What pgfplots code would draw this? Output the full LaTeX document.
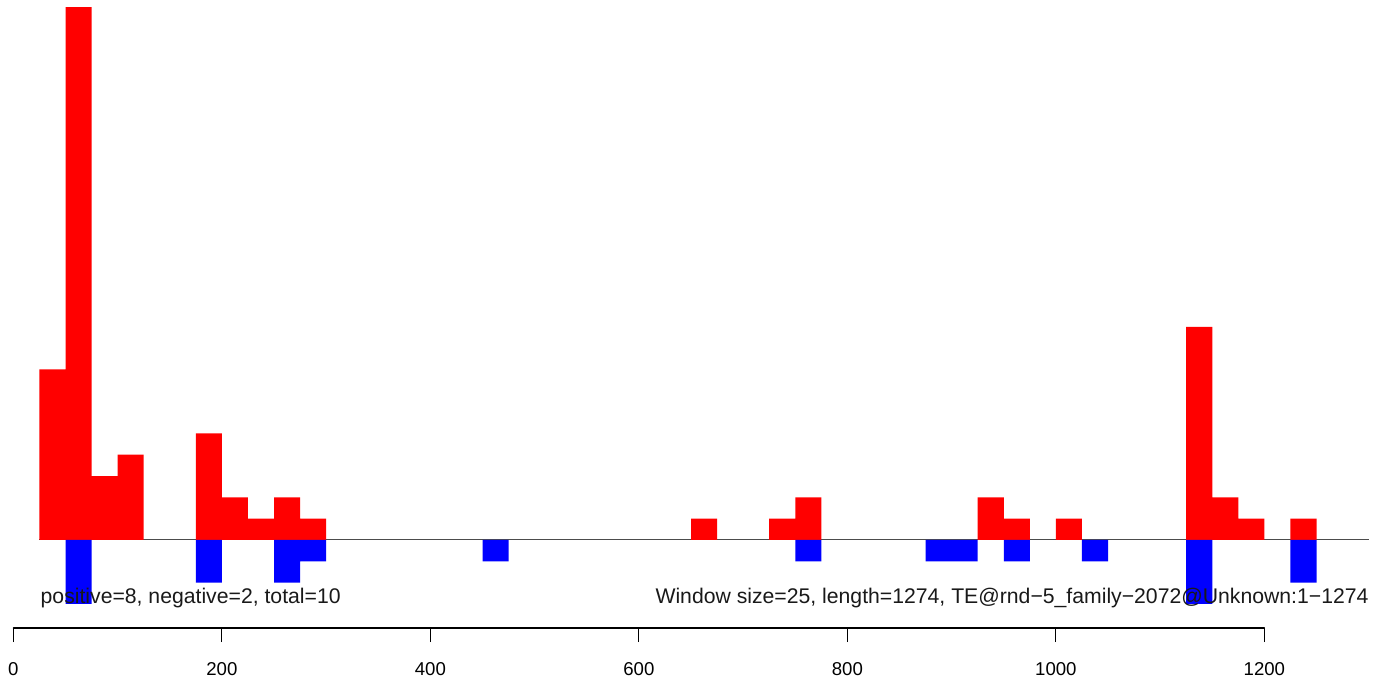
\documentclass[border=0pt]{standalone}
\usepackage{pgfplots}
\pgfplotsset{compat=1.18}
\usepackage{fontspec}
\setmainfont{Liberation Sans}
\begin{document}
\begin{tikzpicture}
\begin{axis}[
  scale only axis,
  width=696pt, height=314pt,
  xmin=-12.85, xmax=1322.4,
  ymin=-4.128, ymax=25.33,
  clip=false,
  hide y axis,
  axis x line*=bottom,
  x axis line style={draw=none},
  xtick={0,200,400,600,800,1000,1200},
  xticklabels={0,200,400,600,800,1000,1200},
  tick align=outside,
  major tick length=7pt,
  xtick style={line width=0.55pt, black},
  xticklabel style={font=\fontsize{9.3}{10}\selectfont, anchor=base, inner sep=0pt, yshift=-16.5pt},
]
\draw[line width=0.5pt, black!70] (axis cs:25,0) -- (axis cs:1300,0);
\addplot[ybar, bar width=25, bar shift=0pt, fill={rgb,255:red,255;green,0;blue,0}, draw=none] coordinates {
(37.5,8) (62.5,25) (87.5,3) (112.5,4)
(187.5,5) (212.5,2) (237.5,1) (262.5,2) (287.5,1)
(662.5,1) (737.5,1) (762.5,2)
(937.5,2) (962.5,1) (1012.5,1)
(1137.5,10) (1162.5,2) (1187.5,1) (1237.5,1)
};
\addplot[ybar, bar width=25, bar shift=0pt, fill={rgb,255:red,0;green,0;blue,255}, draw=none] coordinates {
(62.5,-3) (187.5,-2) (262.5,-2) (287.5,-1)
(462.5,-1) (762.5,-1)
(887.5,-1) (912.5,-1) (962.5,-1) (1037.5,-1)
(1137.5,-3) (1237.5,-2)
};
\draw[line width=0.55pt, black, line cap=round] (axis cs:0,-4.128) -- (axis cs:1200,-4.128);
\node[anchor=base west, inner sep=0pt, font=\fontsize{10.6}{12}\selectfont, text=black!90] at (axis cs:25.8,-3.0) {positive=8, negative=2, total=10};
\node[anchor=base east, inner sep=0pt, font=\fontsize{10.6}{12}\selectfont, text=black!90] at (axis cs:1300.3,-3.0) {Window size=25, length=1274, TE@rnd−5\_family−2072@Unknown:1−1274};
\coordinate (bl) at (axis cs:-12.85,-6.52);
\coordinate (tr) at (axis cs:1322.4,25.33);
\end{axis}
\pgfresetboundingbox
\useasboundingbox (bl) rectangle (tr);
\end{tikzpicture}
\end{document}
